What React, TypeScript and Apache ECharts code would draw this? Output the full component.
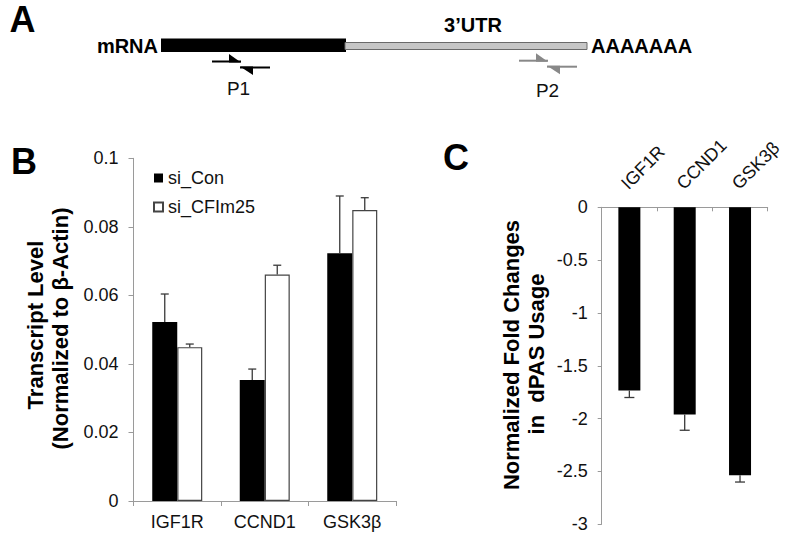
import React, { useEffect, useRef } from "react";
import * as echarts from "echarts";

// ---------- Data ----------
const categories = ["IGF1R", "CCND1", "GSK3β"];
// Panel B: transcript level (normalized to β-Actin)
const siConValues = [0.0522, 0.0353, 0.0723];
const siConErrors = [0.0082, 0.0032, 0.0167];
const siCFImValues = [0.0449, 0.0661, 0.0849];
const siCFImErrors = [0.0009, 0.0027, 0.0036];
// Panel C: normalized fold changes in dPAS usage
const foldValues = [-1.733, -1.96, -2.535];
const foldErrors = [0.067, 0.15, 0.065];
// Axis ranges
const yRangeB = { min: 0, max: 0.1, interval: 0.02 };
const yRangeC = { min: -3, max: 0, interval: 0.5 };
const legendNames = ["si_Con", "si_CFIm25"];

const FONT = "'Liberation Sans', Arial, Helvetica, sans-serif";
const AXIS_GRAY = "#9a9a9a";
const ERR_COLOR = "#3a3a3a";
const BAR_W_B = 25;
const BAR_W_C = 22;

function errorRenderer(offset: number, cap: number, dir: number) {
  return (_params: any, api: any) => {
    const c = api.value(0);
    const v = api.value(1);
    const e = api.value(2);
    const p0 = api.coord([c, v]);
    const p1 = api.coord([c, v + dir * e]);
    const x = p0[0] + offset;
    const style = { stroke: ERR_COLOR, lineWidth: 1.3 };
    return {
      type: "group",
      children: [
        { type: "line", shape: { x1: x, y1: p0[1], x2: x, y2: p1[1] }, style },
        { type: "line", shape: { x1: x - cap / 2, y1: p1[1], x2: x + cap / 2, y2: p1[1] }, style },
      ],
    };
  };
}

const txt = (text: string, x: number, y: number, size: number, bold: boolean, align: string, rot = 0, color = "#000") => ({
  type: "text",
  x,
  y,
  rotation: rot,
  style: {
    text,
    fontFamily: FONT,
    fontSize: size,
    fontWeight: bold ? "bold" : "normal",
    fill: color,
    align,
    verticalAlign: "middle",
  },
});

export default function App() {
  const ref = useRef<HTMLDivElement>(null);

  useEffect(() => {
    if (!ref.current) return;
    document.body.style.margin = "0";
    const chart = echarts.init(ref.current, undefined, { renderer: "svg" });

    const errB1 = categories.map((_, i) => [i, siConValues[i], siConErrors[i]]);
    const errB2 = categories.map((_, i) => [i, siCFImValues[i], siCFImErrors[i]]);
    const errC = categories.map((_, i) => [i, foldValues[i], foldErrors[i]]);

    const primer = (x0: number, y0: number, color: string) => {
      // forward & reverse primer half-arrows
      return [
        { type: "line", shape: { x1: x0, y1: y0, x2: x0 + 29, y2: y0 }, style: { stroke: color, lineWidth: 2 } },
        { type: "polygon", shape: { points: [[x0 + 17, y0 - 7.5], [x0 + 29, y0 + 1], [x0 + 17, y0 + 1]] }, style: { fill: color } },
        { type: "line", shape: { x1: x0 + 28, y1: y0 + 6, x2: x0 + 58, y2: y0 + 6 }, style: { stroke: color, lineWidth: 2 } },
        { type: "polygon", shape: { points: [[x0 + 28, y0 + 5], [x0 + 41, y0 + 5], [x0 + 41, y0 + 13.5]] }, style: { fill: color } },
      ];
    };

    const baseGraphic: any[] = [
      // Panel letters
      txt("A", 22.5, 19, 36, true, "center"),
      txt("B", 24, 161, 36, true, "center"),
      txt("C", 456, 157, 36, true, "center"),
      // Panel A diagram
      { type: "rect", shape: { x: 161, y: 38.5, width: 185, height: 13.5 }, style: { fill: "#000" } },
      { type: "rect", shape: { x: 345, y: 42.5, width: 242, height: 7 }, style: { fill: "#c6c6c6", stroke: "#6a6a6a", lineWidth: 1 } },
      txt("mRNA", 158, 46, 20, true, "right"),
      txt("3’UTR", 473, 25, 20, true, "center"),
      txt("AAAAAAA", 591, 45.5, 20, true, "left"),
      ...primer(212, 61.5, "#000"),
      ...primer(519, 60.7, "#888"),
      txt("P1", 238.5, 88.5, 19, false, "center", 0, "#111"),
      txt("P2", 547.5, 90.5, 19, false, "center", 0, "#111"),
      // Axis titles
      txt("Transcript Level", 35, 325, 22, true, "center", Math.PI / 2),
      txt("(Normalized to β-Actin)", 60, 328.5, 22, true, "center", Math.PI / 2),
      txt("Normalized Fold Changes", 511.7, 355, 22, true, "center", Math.PI / 2),
      txt("in  dPAS Usage", 536.7, 354, 22, true, "center", Math.PI / 2),
    ];

    const option: any = {
      animation: false,
      backgroundColor: "#ffffff",
      textStyle: { fontFamily: FONT },
      legend: {
        data: legendNames,
        orient: "vertical",
        left: 148,
        top: 164,
        itemWidth: 9,
        itemHeight: 9,
        itemGap: 11,
        icon: "rect",
        textStyle: { fontSize: 18, color: "#111", fontFamily: FONT },
      },
      grid: [
        { left: 133.5, top: 158.3, width: 262.5, height: 342.7, containLabel: false },
        { left: 601.7, top: 207.3, width: 166, height: 317, containLabel: false },
      ],
      xAxis: [
        {
          type: "category",
          gridIndex: 0,
          data: categories,
          axisLine: { lineStyle: { color: AXIS_GRAY, width: 1 } },
          axisTick: { show: true, length: 5, lineStyle: { color: AXIS_GRAY } },
          axisLabel: { fontSize: 18, color: "#111", margin: 12 },
        },
        {
          type: "category",
          gridIndex: 1,
          position: "top",
          data: categories,
          axisLine: { onZero: false, lineStyle: { color: AXIS_GRAY, width: 1 } },
          axisTick: { show: true, inside: true, length: 4, lineStyle: { color: AXIS_GRAY } },
          axisLabel: { show: false },
        },
      ],
      yAxis: [
        {
          type: "value",
          gridIndex: 0,
          ...yRangeB,
          axisLine: { show: true, lineStyle: { color: AXIS_GRAY, width: 1 } },
          axisTick: { show: true, length: 5, lineStyle: { color: AXIS_GRAY } },
          axisLabel: { fontSize: 18, color: "#111", margin: 15 },
          splitLine: { show: false },
        },
        {
          type: "value",
          gridIndex: 1,
          ...yRangeC,
          axisLine: { show: true, lineStyle: { color: AXIS_GRAY, width: 1 } },
          axisTick: { show: true, length: 4, lineStyle: { color: AXIS_GRAY } },
          axisLabel: { fontSize: 18, color: "#111", margin: 14 },
          splitLine: { show: false },
        },
      ],
      series: [
        {
          name: legendNames[0],
          type: "bar",
          xAxisIndex: 0,
          yAxisIndex: 0,
          data: siConValues,
          barWidth: BAR_W_B,
          barGap: "0%",
          itemStyle: { color: "#000000" },
        },
        {
          name: legendNames[1],
          type: "bar",
          xAxisIndex: 0,
          yAxisIndex: 0,
          data: siCFImValues,
          barWidth: BAR_W_B,
          barGap: "0%",
          itemStyle: { color: "#ffffff", borderColor: "#444444", borderWidth: 1.2 },
        },
        {
          name: "errB1",
          type: "custom",
          xAxisIndex: 0,
          yAxisIndex: 0,
          data: errB1,
          encode: { x: 0, y: 1 },
          renderItem: errorRenderer(-BAR_W_B / 2, 8, 1),
          clip: false,
          z: 3,
        },
        {
          name: "errB2",
          type: "custom",
          xAxisIndex: 0,
          yAxisIndex: 0,
          data: errB2,
          encode: { x: 0, y: 1 },
          renderItem: errorRenderer(BAR_W_B / 2, 8, 1),
          clip: false,
          z: 3,
        },
        {
          name: "fold",
          type: "bar",
          xAxisIndex: 1,
          yAxisIndex: 1,
          data: foldValues,
          barWidth: BAR_W_C,
          itemStyle: { color: "#000000" },
        },
        {
          name: "errC",
          type: "custom",
          xAxisIndex: 1,
          yAxisIndex: 1,
          data: errC,
          encode: { x: 0, y: 1 },
          renderItem: errorRenderer(0, 10, -1),
          clip: false,
          z: 3,
        },
      ],
      graphic: baseGraphic,
    };

    chart.setOption(option);

    // Rotated category labels for panel C, placed through the chart's own scales
    const axisY = chart.convertToPixel({ yAxisIndex: 1 } as any, 0) as unknown as number;
    const rotLabels = categories.map((c, i) => {
      const x = chart.convertToPixel({ xAxisIndex: 1 } as any, i) as unknown as number;
      return txt(c, x - 5, axisY - 21, 18, false, "left", Math.PI / 4, "#111");
    });
    chart.setOption({ graphic: [...baseGraphic, ...rotLabels] });

    return () => chart.dispose();
  }, []);

  return (
    <div
      ref={ref}
      style={{ position: "fixed", left: 0, top: 0, width: 800, height: 543, background: "#fff" }}
    />
  );
}
